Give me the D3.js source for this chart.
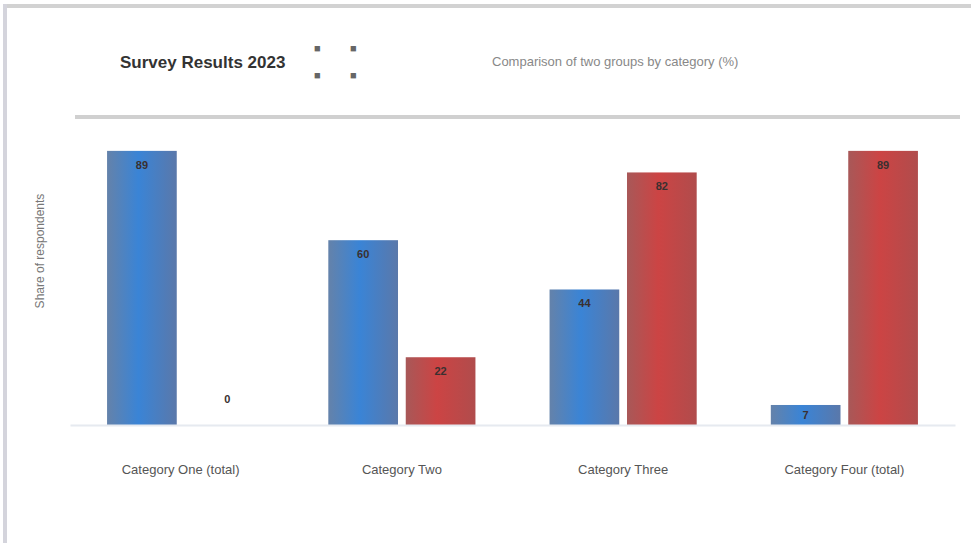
<!DOCTYPE html>
<html>
<head>
<meta charset="utf-8">
<script src="https://cdn.jsdelivr.net/npm/d3@7"></script>
<style>
  html, body { margin: 0; padding: 0; background: #ffffff; }
  svg { display: block; font-family: "Liberation Sans", Arial, sans-serif; }
</style>
</head>
<body>
<svg id="chart" width="971" height="543"></svg>
<script>
// ---- data ----
const categories = ["Category One (total)", "Category Two", "Category Three", "Category Four (total)"];
const seriesNames = ["Group A", "Group B"];
const seriesA = [89, 60, 44, 6.5];
const seriesB = [0, 22, 82, 89];
const titleText = "Survey Results 2023";
const legendMarks = ["■", "■"];
const subtitleText = "Comparison of two groups by category (%)";
const yAxisTitle = "Share of respondents";

const svg = d3.select("#chart");
const W = 971, H = 543;
const baseY = 425, topY = 117;

// frame
svg.append("rect").attr("x", 0).attr("y", 0).attr("width", W).attr("height", H).attr("fill", "#fff");
svg.append("line").attr("x1", 4).attr("x2", W).attr("y1", 6).attr("y2", 6)
  .attr("stroke", "#d2d2d2").attr("stroke-width", 4);
svg.append("line").attr("x1", 5).attr("x2", 5).attr("y1", 4).attr("y2", H)
  .attr("stroke", "#d4d4dc").attr("stroke-width", 4);

// gradients
const defs = svg.append("defs");
function grad(id, edgeL, center, edgeR) {
  const g = defs.append("linearGradient").attr("id", id).attr("x1", "0%").attr("x2", "100%").attr("y1", "0%").attr("y2", "0%");
  g.append("stop").attr("offset", "0%").attr("stop-color", edgeL);
  g.append("stop").attr("offset", "45%").attr("stop-color", center);
  g.append("stop").attr("offset", "100%").attr("stop-color", edgeR);
}
grad("gA", "#6482aa", "#3a84d6", "#5a78aa");
grad("gB", "#a85858", "#cc4444", "#b04c4c");

// scales
const x0 = d3.scaleBand().domain(categories).range([70, 955]).paddingInner(0.335).paddingOuter(0.1675);
const x1 = d3.scaleBand().domain(seriesNames).range([0, x0.bandwidth()]).paddingInner(0.1);
const y = d3.scaleLinear().domain([0, 100]).range([baseY, topY]);

// top rule (100 line)
svg.append("line").attr("x1", 75).attr("x2", 960).attr("y1", y(100)).attr("y2", y(100))
  .attr("stroke", "#d0d0d0").attr("stroke-width", 4);

// titles
svg.append("text").attr("x", 120).attr("y", 68).attr("font-size", 17).attr("font-weight", "bold")
  .attr("fill", "#333").text(titleText);
[0, 1].forEach(row => {
  legendMarks.forEach((t, i) => {
    svg.append("text").attr("x", 314 + i * 36).attr("y", 52 + row * 27).attr("font-size", 11)
      .attr("fill", "#666").text(t);
  });
});
svg.append("text").attr("x", 492).attr("y", 66).attr("font-size", 13).attr("fill", "#888").text(subtitleText);

// y axis title
svg.append("text").attr("transform", `translate(44,${(baseY + topY) / 2 - 20}) rotate(-90)`)
  .attr("text-anchor", "middle").attr("font-size", 12).attr("fill", "#777").text(yAxisTitle);

// bars
const rows = categories.map((c, i) => ({ cat: c, vals: [
  { s: seriesNames[0], v: seriesA[i], fill: "url(#gA)" },
  { s: seriesNames[1], v: seriesB[i], fill: "url(#gB)" }
]}));

const groups = svg.append("g").selectAll("g").data(rows).join("g")
  .attr("transform", d => `translate(${x0(d.cat)},0)`);

groups.selectAll("rect").data(d => d.vals).join("rect")
  .attr("x", d => x1(d.s))
  .attr("y", d => y(d.v))
  .attr("width", x1.bandwidth())
  .attr("height", d => baseY - y(d.v))
  .attr("fill", d => d.fill);

groups.selectAll("text.val").data(d => d.vals).join("text")
  .attr("class", "val")
  .attr("x", d => x1(d.s) + x1.bandwidth() / 2 + (d.v === 0 ? 8 : 0))
  .attr("y", d => d.v === 0 ? baseY - 22 : Math.min(y(d.v) + 18, baseY - 6))
  .attr("text-anchor", "middle").attr("font-size", 11).attr("font-weight", "bold")
  .attr("fill", "#3a3030")
  .text(d => d3.format(".0f")(d.v));

// x axis labels
const xAxis = d3.axisBottom(x0).tickSize(0).tickPadding(0);
const gx = svg.append("g").attr("transform", `translate(0,${baseY})`).call(xAxis);
gx.select(".domain").attr("stroke", "#e6eaf0").attr("stroke-width", 2);
gx.selectAll("text").attr("y", 40).attr("font-size", 13).attr("fill", "#555")
  .attr("font-family", "Liberation Sans, Arial, sans-serif");
</script>
</body>
</html>
